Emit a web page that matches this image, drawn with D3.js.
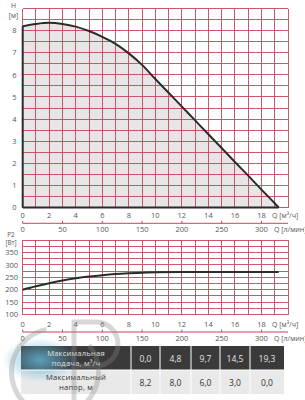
<!DOCTYPE html>
<meta charset="utf-8">
<style>
body { margin: 0; background: #fff; }
text { font-family: "Open Sans", "Noto Sans", sans-serif; fill: #555; }
</style>
<body>
<script src="https://cdn.jsdelivr.net/npm/d3@7"></script>
<script>

// head curve, Q [m3/h] -> H [m]
var headQ = [0, 1, 2, 3, 4, 5, 6, 7, 8, 9, 10, 11, 12, 13, 14, 15, 16, 17, 18, 19, 19.3];
var headH = [8.2, 8.3, 8.35, 8.3, 8.18, 7.98, 7.72, 7.4, 6.97, 6.45, 5.81, 5.19, 4.56, 3.94, 3.31, 2.69, 2.06, 1.44, 0.81, 0.19, 0];

// power curve, Q [m3/h] -> P2 [W]
var powerQ = [0, 1, 2, 3, 4, 5, 6, 7, 8, 9, 10, 12, 14, 16, 18, 19.3];
var powerP = [200, 214, 226, 237, 246, 253, 258, 263, 266, 268, 270, 271, 271, 271, 271, 271];

var qTicks = [0, 2, 4, 6, 8, 10, 12, 14, 16, 18];
var lminTicks = [0, 50, 100, 150, 200, 250, 300];
var hTicks = [0, 1, 2, 3, 4, 5, 6, 7, 8];
var pTicks = [100, 150, 200, 250, 300, 350];

var tableFlow = [0.0, 4.8, 9.7, 14.5, 19.3];
var tableHead = [8.2, 8.0, 6.0, 3.0, 0.0];

var width = 305, height = 400;
var gridColor = "#c64759";

var svg = d3.select("body").append("svg")
    .attr("width", width)
    .attr("height", height);

var x = d3.scaleLinear().domain([0, 20]).range([22.7, 288]);
var xl = d3.scaleLinear().domain([0, 20 * 1000 / 60]).range(x.range());
var yH = d3.scaleLinear().domain([0, 9]).range([207.5, 8.5]);
var yP = d3.scaleLinear().domain([100, 400]).range([314.5, 240]);

function grid(g, y, yStep) {
  var y0 = y.domain()[0], y1 = y.domain()[1];
  g.selectAll(".v").data(d3.range(0, 21))
    .enter().append("line")
      .attr("x1", function(d) { return x(d); })
      .attr("x2", function(d) { return x(d); })
      .attr("y1", y(y0)).attr("y2", y(y1));
  g.selectAll(".h").data(d3.range(y0, y1 + yStep / 2, yStep))
    .enter().append("line")
      .attr("x1", x(0)).attr("x2", x(20))
      .attr("y1", function(d) { return y(d); })
      .attr("y2", function(d) { return y(d); });
  g.selectAll("line")
    .style("stroke", gridColor)
    .style("stroke-width", 0.9)
    .attr("shape-rendering", "crispEdges");
}

function lminAxis(yPos) {
  var g = svg.append("g");
  g.append("line")
    .attr("x1", x(0)).attr("x2", x(20))
    .attr("y1", yPos).attr("y2", yPos)
    .style("stroke", gridColor).style("stroke-width", 1);
  g.selectAll(".t").data(lminTicks).enter().append("line")
    .attr("x1", function(d) { return xl(d); })
    .attr("x2", function(d) { return xl(d); })
    .attr("y1", yPos).attr("y2", yPos - 2.5)
    .style("stroke", gridColor);
  g.selectAll("text").data(lminTicks).enter().append("text")
    .attr("x", function(d) { return xl(d); })
    .attr("y", yPos + 8.5)
    .attr("text-anchor", "middle")
    .style("font-size", "7.5px")
    .text(function(d) { return d; });
  g.append("text")
    .attr("x", 274).attr("y", yPos + 8.5)
    .style("font-size", "7px")
    .text("Q [л/мин]");
}

function qLabels(yPos) {
  var g = svg.append("g");
  g.selectAll("text").data(qTicks).enter().append("text")
    .attr("x", function(d) { return x(d); })
    .attr("y", yPos)
    .attr("text-anchor", "middle")
    .style("font-size", "7.5px")
    .text(function(d) { return d; });
  g.append("text")
    .attr("x", 272).attr("y", yPos)
    .style("font-size", "7px")
    .text("Q [м³/ч]");
}

// ---- top chart: H(Q)
var headData = headQ.map(function(q, i) { return [q, headH[i]]; });

var area = d3.area()
    .x(function(d) { return x(d[0]); })
    .y0(yH(0))
    .y1(function(d) { return yH(d[1]); })
    .curve(d3.curveMonotoneX);

svg.append("path")
    .datum(headData)
    .attr("d", area)
    .style("fill", "#e7e5e6");

grid(svg.append("g"), yH, 0.5);

var line = d3.line()
    .x(function(d) { return x(d[0]); })
    .y(function(d) { return yH(d[1]); })
    .curve(d3.curveMonotoneX);

svg.append("path")
    .datum(headData)
    .attr("d", line)
    .style("fill", "none")
    .style("stroke", "#2b2b2b")
    .style("stroke-width", 2);

// dark outline on the left and bottom of the filled area
svg.append("line")
    .attr("x1", x(0)).attr("x2", x(0))
    .attr("y1", yH(0)).attr("y2", yH(headH[0]))
    .style("stroke", "#2b2b2b").style("stroke-width", 2);
svg.append("line")
    .attr("x1", x(0)).attr("x2", x(headQ[headQ.length - 1]))
    .attr("y1", yH(0)).attr("y2", yH(0))
    .style("stroke", "#2b2b2b").style("stroke-width", 2);

svg.append("g").selectAll("text").data(hTicks).enter().append("text")
    .attr("x", 16.5)
    .attr("y", function(d) { return yH(d) + 2.7; })
    .attr("text-anchor", "end")
    .style("font-size", "7.5px")
    .text(function(d) { return d; });

svg.append("text").attr("x", 13.5).attr("y", 8)
    .attr("text-anchor", "middle").style("font-size", "6.8px").text("H");
svg.append("text").attr("x", 13.5).attr("y", 17.5)
    .attr("text-anchor", "middle").style("font-size", "6.8px").text("[м]");

qLabels(217.8);
lminAxis(223.3);

// ---- bottom chart: P2(Q)
grid(svg.append("g"), yP, 25);

var pLine = d3.line()
    .x(function(d, i) { return x(powerQ[i]); })
    .y(function(d) { return yP(d); })
    .curve(d3.curveMonotoneX);

svg.append("path")
    .datum(powerP)
    .attr("d", pLine)
    .style("fill", "none")
    .style("stroke", "#2b2b2b")
    .style("stroke-width", 2);

svg.append("g").selectAll("text").data(pTicks).enter().append("text")
    .attr("x", 18)
    .attr("y", function(d) { return yP(d) + 2.7; })
    .attr("text-anchor", "end")
    .style("font-size", "7.5px")
    .text(function(d) { return d; });

svg.append("text").attr("x", 11).attr("y", 237)
    .attr("text-anchor", "middle").style("font-size", "6.3px").text("P2");
svg.append("text").attr("x", 11).attr("y", 245)
    .attr("text-anchor", "middle").style("font-size", "6.3px").text("[Вт]");

qLabels(326.5);
lminAxis(332);

// ---- table
var fmt = function(v) { return d3.format(".1f")(v).replace(".", ","); };
var colX = [21, 131, 160, 191, 220, 250, 284];
var rowY = [346, 370, 394];

var table = svg.append("g");

[0, 1].forEach(function(r) {
  table.append("rect")
    .attr("x", colX[0]).attr("y", rowY[r])
    .attr("width", colX[colX.length - 1] - colX[0])
    .attr("height", rowY[r + 1] - rowY[r])
    .style("fill", r === 0 ? "#3a3a3a" : "#e9e9e9");
});

// blue tint from the watermark
var grad = svg.append("defs").append("radialGradient").attr("id", "blue");
grad.append("stop").attr("offset", "0%").attr("stop-color", "#5fb3d3").attr("stop-opacity", 0.85);
grad.append("stop").attr("offset", "100%").attr("stop-color", "#5fb3d3").attr("stop-opacity", 0);
table.append("ellipse")
    .attr("cx", 40).attr("cy", 360).attr("rx", 38).attr("ry", 22)
    .style("fill", "url(#blue)");

colX.slice(1, -1).forEach(function(cx) {
  table.append("line")
    .attr("x1", cx).attr("x2", cx)
    .attr("y1", rowY[0]).attr("y2", rowY[2])
    .style("stroke", "#fff").style("stroke-width", 1);
});
table.append("line")
    .attr("x1", colX[0]).attr("x2", colX[colX.length - 1])
    .attr("y1", rowY[1]).attr("y2", rowY[1])
    .style("stroke", "#fff").style("stroke-width", 1);

var labelCx = (colX[0] + colX[1]) / 2;
[["Максимальная", "подача, м³/ч"], ["Максимальный", "напор, м"]].forEach(function(lines, r) {
  lines.forEach(function(t, k) {
    table.append("text")
      .attr("x", labelCx)
      .attr("y", rowY[r] + 9.6 + k * 10)
      .attr("text-anchor", "middle")
      .style("font-size", "7.6px")
      .style("letter-spacing", "0.2px")
      .style("fill", r === 0 ? "#e2e2e2" : "#333")
      .text(t);
  });
});

[tableFlow, tableHead].forEach(function(vals, r) {
  table.selectAll(".v" + r).data(vals).enter().append("text")
    .attr("x", function(d, i) { return (colX[i + 1] + colX[i + 2]) / 2; })
    .attr("y", rowY[r] + 15.5)
    .attr("text-anchor", "middle")
    .style("font-size", "8.5px")
    .style("fill", r === 0 ? "#e6e6e6" : "#333")
    .text(fmt);
});

// faint logo watermark
var wm = svg.append("g").style("opacity", 0.33);
wm.append("path")
    .attr("d", d3.arc()({ innerRadius: 41, outerRadius: 46, startAngle: 0.9, endAngle: 2 * Math.PI - 0.2 }))
    .attr("transform", "translate(55,372)")
    .style("fill", "#888");
var p = d3.path();
p.moveTo(74, 400);
p.lineTo(74, 322);
p.lineTo(96, 322);
p.arc(96, 344, 22, -Math.PI / 2, Math.PI / 2);
p.lineTo(74, 366);
wm.append("path")
    .attr("d", p.toString())
    .style("fill", "none")
    .style("stroke", "#888")
    .style("stroke-width", 5);

</script>
